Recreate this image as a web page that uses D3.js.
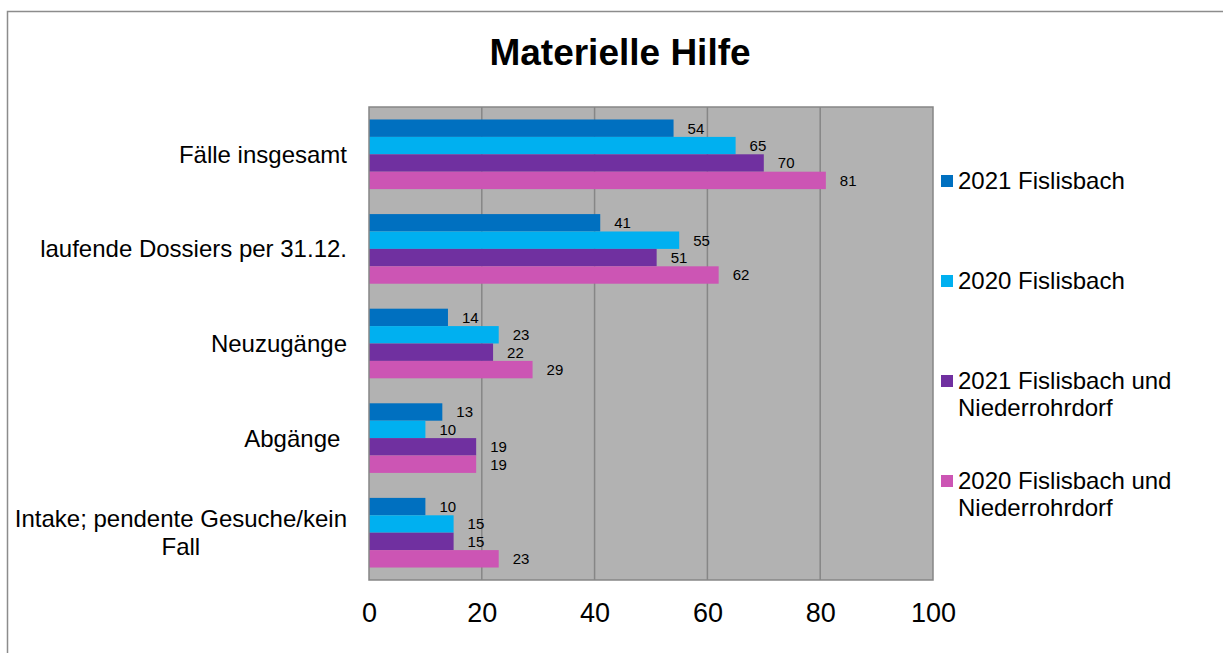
<!DOCTYPE html>
<html>
<head>
<meta charset="utf-8">
<script src="https://cdn.jsdelivr.net/npm/d3@7"></script>
<style>
  html, body { margin: 0; padding: 0; background: #fff; }
  svg { display: block; font-family: "Liberation Sans", Arial, sans-serif; }
</style>
</head>
<body>
<svg id="chart" width="1223" height="653"></svg>
<script>
// Categories (top to bottom) and series
const categories = [
  "Fälle insgesamt",
  "laufende Dossiers per 31.12.",
  "Neuzugänge",
  "Abgänge ",
  "Intake; pendente Gesuche/kein\nFall"
];
const seriesNames = [
  "2021 Fislisbach",
  "2020 Fislisbach",
  "2021 Fislisbach und\nNiederrohrdorf",
  "2020 Fislisbach und\nNiederrohrdorf"
];
const seriesColors = ["#0070C0", "#00B0F0", "#7030A0", "#CC55B4"];

const values2021Fislisbach = [54, 41, 14, 13, 10];
const values2020Fislisbach = [65, 55, 23, 10, 15];
const values2021Both       = [70, 51, 22, 19, 15];
const values2020Both       = [81, 62, 29, 19, 23];

const seriesValues = [values2021Fislisbach, values2020Fislisbach, values2021Both, values2020Both];
const xTicks = [0, 20, 40, 60, 80, 100];

const svg = d3.select("#chart");

// outer chart frame
svg.append("rect")
  .attr("x", 7.5).attr("y", 11.5)
  .attr("width", 1240).attr("height", 680)
  .attr("fill", "#fff").attr("stroke", "#8c8c8c").attr("stroke-width", 1.5);

// plot area
const plot = { left: 369, right: 933, top: 107, bottom: 580 };

const x = d3.scaleLinear().domain([0, 100]).range([plot.left, plot.right]);
const y = d3.scaleBand().domain(categories).range([plot.top, plot.bottom])
  .paddingInner(0.264).paddingOuter(0.132);
const ySub = d3.scaleBand().domain(d3.range(seriesNames.length)).range([0, y.bandwidth()]);

svg.append("rect")
  .attr("x", plot.left).attr("y", plot.top)
  .attr("width", plot.right - plot.left).attr("height", plot.bottom - plot.top)
  .attr("fill", "#B2B2B2");

// vertical gridlines
svg.append("g").selectAll("line")
  .data(xTicks.slice(1, -1))
  .join("line")
  .attr("x1", d => x(d)).attr("x2", d => x(d))
  .attr("y1", plot.top).attr("y2", plot.bottom)
  .attr("stroke", "#868686").attr("stroke-width", 1.5);

// bars
const rows = [];
categories.forEach((c, ci) => {
  seriesValues.forEach((vals, si) => rows.push({ c, si, v: vals[ci] }));
});

svg.append("g").selectAll("rect")
  .data(rows)
  .join("rect")
  .attr("x", x(0))
  .attr("y", d => y(d.c) + ySub(d.si))
  .attr("width", d => x(d.v) - x(0))
  .attr("height", ySub.bandwidth())
  .attr("fill", d => seriesColors[d.si]);

// value labels
svg.append("g").selectAll("text")
  .data(rows)
  .join("text")
  .attr("x", d => x(d.v) + 14)
  .attr("y", d => y(d.c) + ySub(d.si) + ySub.bandwidth() / 2)
  .attr("dy", "0.36em")
  .attr("font-size", 15)
  .attr("fill", "#000")
  .text(d => d.v);

// plot border
svg.append("rect")
  .attr("x", plot.left).attr("y", plot.top)
  .attr("width", plot.right - plot.left).attr("height", plot.bottom - plot.top)
  .attr("fill", "none").attr("stroke", "#868686").attr("stroke-width", 1.5);

// x axis
const xAxis = svg.append("g")
  .attr("transform", `translate(0,${plot.bottom})`)
  .call(d3.axisBottom(x).tickValues(xTicks).tickSize(0).tickPadding(0));
xAxis.select(".domain").remove();
xAxis.selectAll("text")
  .attr("y", 42).attr("dy", 0)
  .attr("font-size", 27)
  .attr("font-family", "Liberation Sans, Arial, sans-serif")
  .attr("fill", "#000");

// category labels
const labelRight = 347;
const catG = svg.append("g");
categories.forEach(c => {
  const lines = c.split("\n");
  const cy = y(c) + y.bandwidth() / 2;
  const lh = 28;
  const t = catG.append("text")
    .attr("font-size", 24)
    .attr("fill", "#000")
    .style("white-space", "pre");
  lines.forEach((ln, i) => {
    t.append("tspan").text(ln)
      .attr("y", cy + (i - (lines.length - 1) / 2) * lh)
      .attr("dy", "0.35em");
  });
  if (lines.length === 1) {
    t.attr("text-anchor", "end").selectAll("tspan").attr("x", labelRight);
  } else {
    const widths = t.selectAll("tspan").nodes().map(n => n.getComputedTextLength());
    const cx = labelRight - d3.max(widths) / 2;
    t.attr("text-anchor", "middle").selectAll("tspan").attr("x", cx);
  }
});

// title
svg.append("text")
  .attr("x", 620).attr("y", 65)
  .attr("text-anchor", "middle")
  .attr("font-size", 37).attr("font-weight", "bold")
  .attr("fill", "#000")
  .text("Materielle Hilfe");

// legend
const legendY = [181, 281, 381, 481];
const lg = svg.append("g");
seriesNames.forEach((name, i) => {
  const cy = legendY[i];
  lg.append("rect")
    .attr("x", 941).attr("y", cy - 6)
    .attr("width", 12).attr("height", 12)
    .attr("fill", seriesColors[i]);
  const t = lg.append("text").attr("font-size", 24).attr("fill", "#000");
  name.split("\n").forEach((ln, j) => {
    t.append("tspan").attr("x", 958).attr("y", cy + j * 27).attr("dy", "0.35em").text(ln);
  });
});
</script>
</body>
</html>
